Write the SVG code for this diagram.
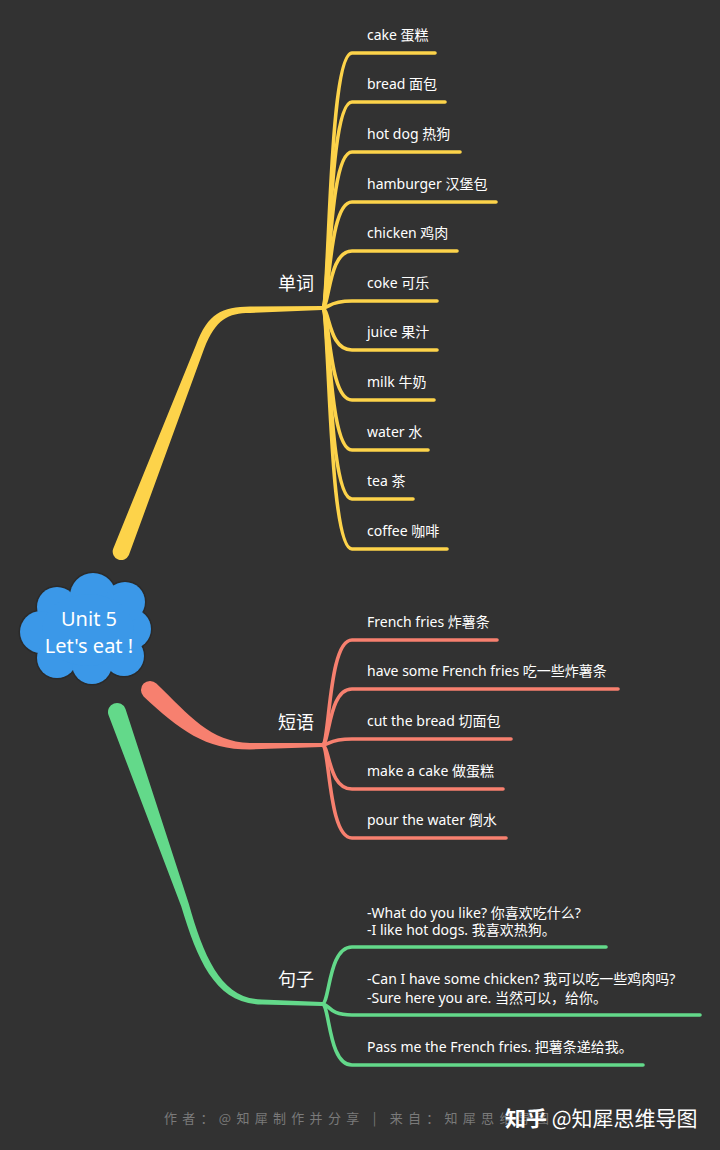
<svg xmlns="http://www.w3.org/2000/svg" xmlns:xlink="http://www.w3.org/1999/xlink" width="720" height="1150" viewBox="0 0 720 1150">
  <style>
    .t{font-family:"Noto Sans","Noto Sans CJK SC",sans-serif;font-size:14px;fill:#ffffff}
    .lbl{font-family:"Noto Sans","Noto Sans CJK SC",sans-serif;font-size:18px;fill:#ffffff;text-anchor:middle}
    .ct{font-family:"Noto Sans","Noto Sans CJK SC",sans-serif;font-size:20px;fill:#ffffff;text-anchor:middle}
    .y{stroke:#fdd34a;fill:none;stroke-width:3.6;stroke-linecap:round}
    .s{stroke:#f7806f;fill:none;stroke-width:3.6;stroke-linecap:round}
    .g{stroke:#63d98a;fill:none;stroke-width:3.6;stroke-linecap:round}
  </style>
  <defs>
    <g id="cloudShape">
      <circle cx="93" cy="596" r="23"/>
      <circle cx="57" cy="607" r="20"/>
      <circle cx="41" cy="632" r="21"/>
      <circle cx="57" cy="658" r="20"/>
      <circle cx="92" cy="664" r="20"/>
      <circle cx="124" cy="656" r="20"/>
      <circle cx="131" cy="629" r="20"/>
      <circle cx="125" cy="602" r="20"/>
      <ellipse cx="88" cy="630" rx="46" ry="36"/>
    </g>
  </defs>
  <rect x="0" y="0" width="720" height="1150" fill="#323232"/>

  <g id="connectors">
    <!-- main branches (tapered) -->
    <path fill="#fdd34a" d="M113.1 548.9 L195.8 345.4 C208 313 222 307 250 306.5 L322 306 L322 310 L250 313 C228 313 216 319 204.2 348.6 L128.9 555.1 A8.5 8.5 0 0 1 113.1 548.9 Z"/>
    <path fill="#f7806f" d="M156.4 683.6 C190 716 210 742 250 743 L322 743 L322 747 L250 749.5 C205 749.5 180 730 143.6 696.4 A9 9 0 0 1 156.4 683.6 Z"/>
    <path fill="#63d98a" d="M125.5 709 L188.8 903.7 C204 958 222 999 262 999.5 L322 1002 L322 1006 L262 1004.5 C216 1004 198 962 181.2 906.3 L108.5 715 A9 9 0 0 1 125.5 709 Z"/>

    <!-- yellow children -->
    <path class="y" d="M322 308 C330 308 328 53 352 53 L435 53"/>
    <path class="y" d="M322 308 C330 308 328 102 352 102 L445 102"/>
    <path class="y" d="M322 308 C330 308 328 152 352 152 L460 152"/>
    <path class="y" d="M322 308 C330 308 328 202 352 202 L496 202"/>
    <path class="y" d="M322 308 C330 308 328 251 352 251 L457 251"/>
    <path class="y" d="M322 308 C330 308 328 301 352 301 L437 301"/>
    <path class="y" d="M322 308 C330 308 328 350 352 350 L437 350"/>
    <path class="y" d="M322 308 C330 308 328 400 352 400 L434 400"/>
    <path class="y" d="M322 308 C330 308 328 450 352 450 L428 450"/>
    <path class="y" d="M322 308 C330 308 328 499 352 499 L413 499"/>
    <path class="y" d="M322 308 C330 308 328 549 352 549 L447 549"/>

    <!-- salmon children -->
    <path class="s" d="M322 745 C330 745 328 640 352 640 L497 640"/>
    <path class="s" d="M322 745 C330 745 328 689 352 689 L618 689"/>
    <path class="s" d="M322 745 C330 745 328 739 352 739 L511 739"/>
    <path class="s" d="M322 745 C330 745 328 789 352 789 L503 789"/>
    <path class="s" d="M322 745 C330 745 328 838 352 838 L506 838"/>

    <!-- green children -->
    <path class="g" d="M322 1004 C330 1004 328 947 352 947 L606 947"/>
    <path class="g" d="M322 1004 C330 1004 328 1015 352 1015 L700 1015"/>
    <path class="g" d="M322 1004 C330 1004 328 1065 352 1065 L643 1065"/>
  </g>

  <g id="root">
    <use xlink:href="#cloudShape" href="#cloudShape" fill="#3b98e8" stroke="#2a2a2a" stroke-width="3"/>
    <use xlink:href="#cloudShape" href="#cloudShape" fill="#3b98e8"/>
    <text class="ct" x="89" y="626">Unit 5</text>
    <text class="ct" x="89" y="653">Let's eat !</text>
  </g>

  <g id="topic-words">
    <text class="lbl" x="296" y="290">单词</text>
  </g>
  <g id="topic-phrases">
    <text class="lbl" x="296" y="729">短语</text>
  </g>
  <g id="topic-sentences">
    <text class="lbl" x="296" y="986">句子</text>
  </g>

  <g id="words">
    <text class="t" x="367" y="40">cake 蛋糕</text>
    <text class="t" x="367" y="89">bread 面包</text>
    <text class="t" x="367" y="139">hot dog 热狗</text>
    <text class="t" x="367" y="189">hamburger 汉堡包</text>
    <text class="t" x="367" y="238">chicken 鸡肉</text>
    <text class="t" x="367" y="288">coke 可乐</text>
    <text class="t" x="367" y="337">juice 果汁</text>
    <text class="t" x="367" y="387">milk 牛奶</text>
    <text class="t" x="367" y="437">water 水</text>
    <text class="t" x="367" y="486">tea 茶</text>
    <text class="t" x="367" y="536">coffee 咖啡</text>
  </g>

  <g id="phrases">
    <text class="t" x="367" y="627">French fries 炸薯条</text>
    <text class="t" x="367" y="676">have some French fries 吃一些炸薯条</text>
    <text class="t" x="367" y="726">cut the bread 切面包</text>
    <text class="t" x="367" y="776">make a cake 做蛋糕</text>
    <text class="t" x="367" y="825">pour the water 倒水</text>
  </g>

  <g id="sentences">
    <text class="t" x="367" y="918">-What do you like? 你喜欢吃什么?</text>
    <text class="t" x="367" y="935">-I like hot dogs. 我喜欢热狗。</text>
    <text class="t" x="367" y="984">-Can I have some chicken? 我可以吃一些鸡肉吗?</text>
    <text class="t" x="367" y="1003">-Sure here you are. 当然可以，给你。</text>
    <text class="t" x="367" y="1052">Pass me the French fries. 把薯条递给我。</text>
  </g>

  <g id="watermark">
    <text x="164" y="1123" textLength="385" lengthAdjust="spacing" style="font-family:'Noto Sans CJK SC','Noto Sans',sans-serif;font-size:13px;fill:#7a7a7a">作者：@知犀制作并分享 | 来自：知犀思维导图</text>
    <text x="505" y="1126" style="font-family:'Noto Sans CJK SC',sans-serif;font-size:21px;fill:#ffffff"><tspan font-weight="bold">知乎</tspan> @知犀思维导图</text>
  </g>
</svg>
